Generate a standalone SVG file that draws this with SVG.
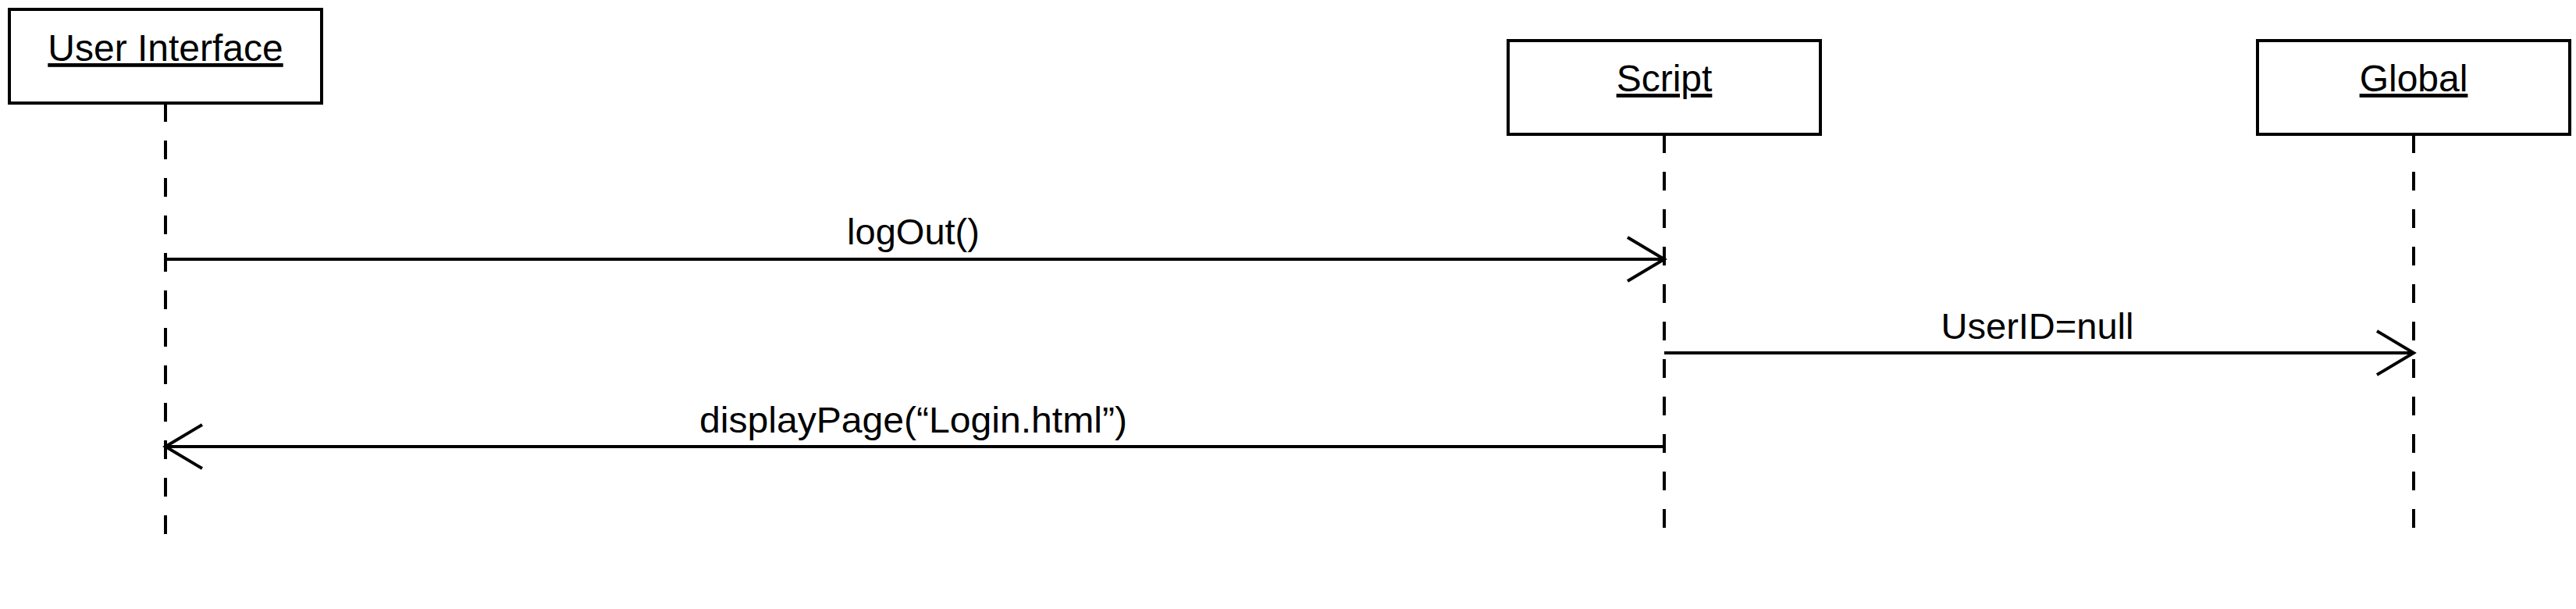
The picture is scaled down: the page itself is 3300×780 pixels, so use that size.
<svg xmlns="http://www.w3.org/2000/svg" width="3300" height="780" viewBox="0 0 3300 780">
<style>
.box{fill:#fff;stroke:#000;stroke-width:4}
.life{stroke:#000;stroke-width:4;stroke-dasharray:24 24;fill:none}
.title{font-family:"Liberation Sans",Arial,sans-serif;font-size:48px;text-anchor:middle;text-decoration:underline;fill:#000}
.msg{stroke:#000;stroke-width:4;fill:none;marker-end:url(#open)}
.lbl{font-family:"Liberation Sans",Arial,sans-serif;font-size:47px;fill:#000}
</style>
<defs>
<marker id="open" markerUnits="userSpaceOnUse" viewBox="-52 -34 60 68" refX="0" refY="0" markerWidth="60" markerHeight="68" orient="auto" overflow="visible">
<path d="M-47,-28 L0,0 L-47,28" fill="none" stroke="#000" stroke-width="4"/>
</marker>
</defs>
<rect width="3300" height="780" fill="#fff"/>
<g id="ui">
<rect class="box" x="12" y="12" width="400" height="120"/>
<text class="title" x="212" y="78">User Interface</text>
<line class="life" x1="212" y1="132" x2="212" y2="684"/>
</g>
<g id="script">
<rect class="box" x="1932" y="52" width="400" height="120"/>
<text class="title" x="2132" y="117">Script</text>
<line class="life" x1="2132" y1="172" x2="2132" y2="676"/>
</g>
<g id="global">
<rect class="box" x="2892" y="52" width="400" height="120"/>
<text class="title" x="3092" y="117">Global</text>
<line class="life" x1="3092" y1="172" x2="3092" y2="676"/>
</g>
<g id="connectors">
<line class="msg" x1="212" y1="332" x2="2132" y2="332"/>
<text class="lbl" x="1170" y="313" text-anchor="middle">logOut()</text>
<line class="msg" x1="2132" y1="452" x2="3092" y2="452"/>
<text class="lbl" x="2610" y="434" text-anchor="middle">UserID=null</text>
<line class="msg" x1="2132" y1="572" x2="212" y2="572"/>
<text class="lbl" x="896" y="554" textLength="548" lengthAdjust="spacingAndGlyphs">displayPage(“Login.html”)</text>
</g>
</svg>
